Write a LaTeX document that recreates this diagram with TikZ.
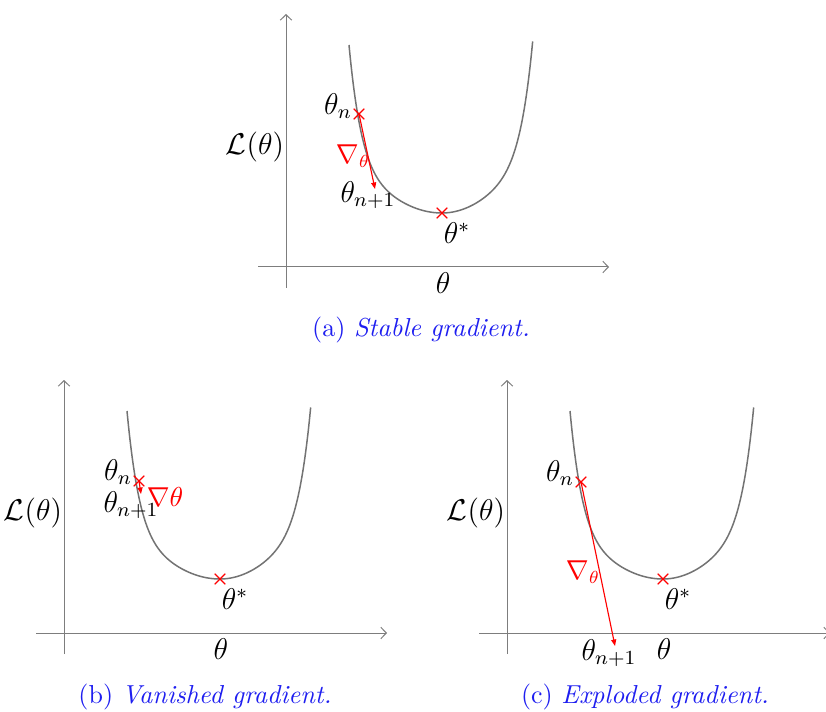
\documentclass[tikz,border=0pt]{standalone}
\usetikzlibrary{arrows.meta,shapes.misc}
\definecolor{curvegray}{RGB}{115,115,115}
\definecolor{axisgray}{RGB}{125,125,125}
\definecolor{capblue}{RGB}{30,30,240}
\tikzset{
  axisline/.style={draw=axisgray, line width=0.4pt, -{Straight Barb[length=2.2pt,width=4.6pt]}},
  lcurve/.style={draw=curvegray, line width=0.6pt},
  xmarker/.style={cross out, draw=red, line width=0.45pt, minimum size=3.8pt, inner sep=0pt},
  grad/.style={draw=red, line width=0.45pt, -{Triangle[length=2.6pt,width=2pt]}},
  lab/.style={font=\fontsize{11.5}{14}\selectfont, inner sep=0pt},
  redlab/.style={font=\fontsize{10.5}{13}\selectfont, inner sep=0pt, text=red},
  captext/.style={font=\fontsize{10.4}{12}\selectfont, text=capblue, inner sep=0pt},
}
\newcommand\basepanel[1]{%
  \coordinate (#1-yb) at (286,288);
  \coordinate (#1-yt) at (286,14);
  \coordinate (#1-xl) at (258,267);
  \coordinate (#1-xr) at (609,267);
  \draw[axisline] (#1-yb) -- (#1-yt);
  \draw[axisline] (#1-xl) -- (#1-xr);
  \draw[lcurve] plot[domain=-1:0,samples=90,smooth] ({442+93*\x},{213-60*\x*\x-108*(\x*\x)^4})
     -- plot[domain=0:1,samples=90,smooth] ({442+90.7*\x},{213-70*\x*\x-102*(\x*\x)^4});
  \node[xmarker] (#1-opt) at (442,213) {};
  \node[lab] (#1-optl) at (457,233) {$\theta^*$};
  \node[lab] (#1-ylab) at (255,147) {$\mathcal{L}(\theta)$};
  \node[lab] (#1-xlab) at (443,283) {$\theta$};
}
\begin{document}
\begin{tikzpicture}[x=0.4pt,y=-0.4pt]
\useasboundingbox (0,0) rectangle (826,712);
\clip (0,0) rectangle (826,712);
% (a) stable
\begin{scope}
  \basepanel{a}
  \node[xmarker] (a-n) at (359,114) {};
  \coordinate (a-end) at (375,189);
  \draw[grad] (a-n.center) -- (a-end);
  \node[lab] (a-nl) at (338,106) {$\theta_n$};
  \node[redlab] (a-gl) at (353,156) {$\nabla_\theta$};
  \node[lab] (a-n1l) at (368,195) {$\theta_{n+1}$};
\end{scope}
% (b) vanished
\begin{scope}[shift={(-222,366)}]
  \basepanel{b}
  \node[xmarker] (b-n) at (361,115) {};
  \coordinate (b-end) at (363,128);
  \draw[grad] (b-n.center) -- (b-end);
  \node[lab] (b-nl) at (340,106) {$\theta_n$};
  \node[redlab] (b-gl) at (387,131) {$\nabla\theta$};
  \node[lab] (b-n1l) at (353,139) {$\theta_{n+1}$};
\end{scope}
% (c) exploded
\begin{scope}[shift={(221,366)}]
  \basepanel{c}
  \node[xmarker] (c-n) at (360,116) {};
  \coordinate (c-end) at (394,280);
  \draw[grad] (c-n.center) -- (c-end);
  \node[lab] (c-nl) at (339,107) {$\theta_n$};
  \node[redlab] (c-gl) at (362,206) {$\nabla_\theta$};
  \node[lab] (c-n1l) at (388,287) {$\theta_{n+1}$};
\end{scope}
\node[captext] (capa) at (421,330) {(a) \textit{Stable gradient.}};
\node[captext] (capb) at (205,697) {(b) \textit{Vanished gradient.}};
\node[captext] (capc) at (645,697) {(c) \textit{Exploded gradient.}};
\end{tikzpicture}
\end{document}
